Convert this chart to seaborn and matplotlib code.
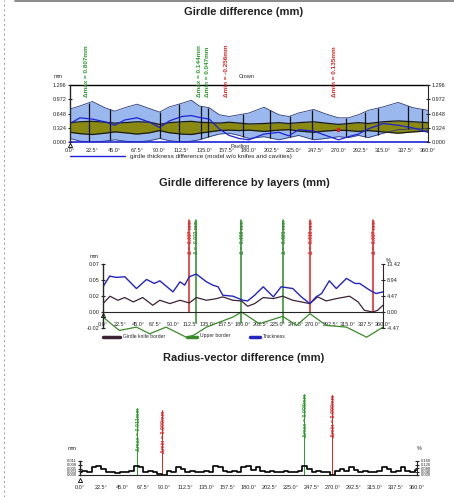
import numpy as np
import matplotlib
matplotlib.use("Agg")
import matplotlib.pyplot as plt
from matplotlib.lines import Line2D
import seaborn as sns

sns.set_style("white")
plt.rcParams['font.family'] = ['Liberation Sans', 'DejaVu Sans']

W, H = 454, 497

# ---------------- data ----------------
x_ticks = [0, 22.5, 45, 67.5, 90, 112.5, 135, 157.5, 180, 202.5, 225, 247.5, 270, 292.5, 315, 337.5, 360]
x_labels = ["%.1f°" % v for v in x_ticks]

# panel 1: girdle difference
ang1 = [0, 10, 22.5, 35, 45, 55, 67.5, 80, 90, 100, 112.5, 122, 130, 140, 150, 160, 170, 180,
        195, 210, 220, 230, 245, 257, 270, 280, 290, 300, 315, 330, 345, 360]
band_hi = [0.75, 0.82, 0.92, 0.78, 0.70, 0.78, 0.86, 0.76, 0.68, 0.80, 0.88, 0.95, 0.82, 0.78, 0.62, 0.58,
           0.62, 0.66, 0.79, 0.62, 0.58, 0.66, 0.74, 0.64, 0.55, 0.55, 0.62, 0.72, 0.80, 0.90, 0.78, 0.72]
band_lo = [0.08, 0.02, 0.0, 0.02, 0.05, 0.02, 0.0, 0.03, 0.08, 0.03, 0.0, 0.02, 0.05, 0.12, 0.18, 0.20,
           0.15, 0.08, 0.12, 0.05, 0.10, 0.15, 0.05, 0.08, 0.12, 0.10, 0.15, 0.10, 0.20, 0.28, 0.30, 0.30]
olive_hi = [0.44, 0.46, 0.47, 0.45, 0.43, 0.44, 0.46, 0.45, 0.40, 0.44, 0.46, 0.47, 0.45, 0.44, 0.43, 0.45,
            0.43, 0.41, 0.42, 0.44, 0.42, 0.44, 0.46, 0.43, 0.40, 0.42, 0.44, 0.42, 0.46, 0.48, 0.46, 0.44]
olive_lo = [0.22, 0.19, 0.17, 0.20, 0.23, 0.21, 0.18, 0.21, 0.26, 0.21, 0.18, 0.17, 0.20, 0.23, 0.26, 0.27,
            0.26, 0.27, 0.24, 0.27, 0.28, 0.25, 0.22, 0.25, 0.27, 0.26, 0.24, 0.26, 0.23, 0.20, 0.23, 0.25]
thick1 = [0.42, 0.55, 0.52, 0.46, 0.38, 0.50, 0.55, 0.45, 0.33, 0.48, 0.58, 0.60, 0.56, 0.52, 0.30, 0.15,
          0.08, 0.05, 0.18, 0.22, 0.14, 0.28, 0.25, 0.15, 0.05, 0.12, 0.18, 0.30, 0.42, 0.38, 0.32, 0.22]
facets = [19, 40, 90, 110, 132, 139, 174, 201, 221, 243, 278, 297, 310, 340, 354]
y_ticks1 = [0.0, 0.324, 0.648, 0.972, 1.296]
notes1 = [(17, "Δmax = 0.807mm", "#2a9a2a"), (130, "Δmax = 0.144mm", "#2a9a2a"),
          (138, "Δmin = 0.047mm", "#2a9a2a"), (157, "Δmin = -0.256mm", "#e02020"),
          (266, "Δmin = 0.135mm", "#e02020")]

# panel 2: girdle difference by layers
ang_th = [0, 8.6, 17, 28, 43, 56, 66, 73, 90, 99, 105, 111, 120, 133, 141, 148, 154, 167, 180, 186, 195,
          206, 219, 229, 244, 255, 266, 274, 281, 291, 300, 313, 324, 330, 343, 351, 360]
thickness = [0.0378, 0.0539, 0.0519, 0.0529, 0.0352, 0.0488, 0.0428, 0.0468, 0.0302, 0.0453, 0.0403,
             0.0529, 0.0569, 0.0453, 0.0403, 0.0378, 0.0252, 0.0237, 0.0176, 0.0166, 0.0252, 0.0378,
             0.0227, 0.0378, 0.0352, 0.0227, 0.0126, 0.0227, 0.0277, 0.0468, 0.0352, 0.0504, 0.0428,
             0.0428, 0.0327, 0.0277, 0.0302]
ang_kn = [0, 9, 19, 28, 39, 51, 64, 73, 86, 99, 111, 120, 133, 146, 154, 167, 178, 186, 195, 206, 219,
          231, 244, 266, 276, 287, 300, 317, 328, 336, 347, 353, 360]
knife = [0.0126, 0.0237, 0.0176, 0.0217, 0.0151, 0.0217, 0.0101, 0.0176, 0.0126, 0.0176, 0.0136,
         0.0217, 0.0176, 0.0201, 0.0227, 0.0176, 0.0166, 0.0086, 0.0126, 0.0217, 0.0201, 0.0237,
         0.0176, 0.0126, 0.0227, 0.0166, 0.0201, 0.0237, 0.0151, 0.0025, 0.0, 0.0025, 0.0101]
ang_up = [0, 21, 43, 60, 81, 107, 116, 133, 150, 167, 178, 201, 231, 249, 266, 287, 313, 339, 360]
upper = [-0.0076, -0.0277, -0.0227, -0.0327, -0.0227, -0.0378, -0.0352, -0.0227, -0.0151, -0.0076,
         0.0, -0.0176, -0.0065, -0.0201, -0.0025, -0.0201, -0.0227, -0.0378, -0.0227]
y_ticks2 = [-0.024, 0.0, 0.024, 0.048, 0.072]
y_ticks2r = [-4.47, 0.0, 4.47, 8.94, 13.42]
notes2 = [(111, "Δ = -0.037 mm", "#e02020"), (119, "Δ = -0.022 mm", "#2a8a2a"),
          (178, "Δ = -0.019 mm", "#2a8a2a"), (232, "Δ = -0.021 mm", "#2a8a2a"),
          (266, "Δ = -0.016 mm", "#e02020"), (347, "Δ = -0.037 mm", "#e02020")]

# panel 3: radius-vector difference
ang3 = list(range(0, 361, 5))
radius = [0.002, 0.003, 0.002, 0.006, 0.007, 0.005, 0.002, 0.002, 0.0015, 0.002, 0.002, 0.003, 0.007,
          0.006, 0.002, 0.003, 0.002, 0.001, 0.0, 0.003, 0.002, 0.006, 0.005, 0.002, 0.003, 0.002,
          0.002, 0.003, 0.002, 0.007, 0.006, 0.003, 0.002, 0.003, 0.002, 0.006, 0.007, 0.004, 0.006,
          0.003, 0.002, 0.003, 0.002, 0.002, 0.003, 0.002, 0.002, 0.003, 0.007, 0.005, 0.002, 0.003,
          0.002, 0.002, 0.0, 0.003, 0.005, 0.003, 0.006, 0.004, 0.002, 0.003, 0.002, 0.002, 0.003,
          0.006, 0.005, 0.002, 0.003, 0.006, 0.003, 0.002, 0.004]
y_ticks3 = [0.0, 0.003, 0.005, 0.008, 0.011]
y_ticks3r = [0.0, 0.04, 0.08, 0.12, 0.16]
notes3 = [(61, "Δmax = 0.011mm", "#2a9a2a", 0.053), (88, "Δmin = 0.000mm", "#e02020", 0.051),
          (239, "Δmax = 0.008mm", "#2a9a2a", 0.064), (269, "Δmin = 0.000mm", "#e02020", 0.063)]

# ---------------- drawing ----------------
def rect(x0, ytop, x1, ybot):
    return [x0 / W, 1 - ybot / H, (x1 - x0) / W, (ybot - ytop) / H]

def fy(y):
    return 1 - y / H

FS = 4

def style_axes(ax, pad):
    for s in ["top", "right"]:
        ax.spines[s].set_visible(False)
    ax.spines["left"].set_linewidth(1.0)
    ax.spines["bottom"].set_position(("data", 0))
    ax.set_xlim(0, 360)
    ax.set_xticks(x_ticks)
    ax.set_xticklabels(x_labels, fontsize=FS)
    ax.tick_params(axis="x", direction="inout", length=3, width=0.8, pad=pad, color="black")
    ax.tick_params(axis="y", direction="inout", length=3, width=0.8, labelsize=FS, pad=1)
    ax.set_xlabel("")
    ax.set_ylabel("")

fig = plt.figure(figsize=(W / 100, H / 100), dpi=100)

# page decoration
fig.add_artist(Line2D([15 / W, 1], [fy(1), fy(1)], color="#777777", lw=1.2))
fig.add_artist(Line2D([4 / W, 4 / W], [0, 1], color="#999999", lw=0.7, ls=(0, (2, 3))))

title_kw = dict(ha="center", va="center", fontsize=8, fontweight="bold", color="#222222")
fig.text(244 / W, fy(12), "Girdle difference (mm)", **title_kw)
fig.text(244 / W, fy(183), "Girdle difference by layers (mm)", **title_kw)
fig.text(244 / W, fy(358), "Radius-vector difference (mm)", **title_kw)

# ---- panel 1
ax1 = fig.add_axes(rect(70, 85, 428, 142))
ax1.fill_between(ang1, band_lo, band_hi, color="#9ab8ee", lw=0)
sns.lineplot(x=ang1, y=band_hi, ax=ax1, color="#2b3a7a", lw=0.6)
sns.lineplot(x=ang1, y=band_lo, ax=ax1, color="#2b3a7a", lw=0.6)
ax1.fill_between(ang1, olive_lo, olive_hi, color="#8a8a12", lw=0)
sns.lineplot(x=ang1, y=olive_hi, ax=ax1, color="#1a1a1a", lw=0.9)
sns.lineplot(x=ang1, y=olive_lo, ax=ax1, color="#1a1a1a", lw=0.9)
ax1.vlines(facets, np.interp(facets, ang1, band_lo), np.interp(facets, ang1, band_hi),
           color="#111111", lw=0.9)
sns.lineplot(x=ang1, y=thick1, ax=ax1, color="#1c22d8", lw=0.9)
ax1.plot([268, 272], [0.28, 0.28], color="#e02020", lw=3, solid_capstyle="butt")
ax1.axhline(1.296, color="black", lw=1.0, clip_on=False)
ax1.axhline(0, color="#1c22d8", lw=1.2, clip_on=False)
ax1.set_ylim(0, 1.296)
style_axes(ax1, pad=3)
ax1.spines["bottom"].set_visible(False)
ax1.set_yticks(y_ticks1)
ax1.set_yticklabels(["%.3f" % v for v in y_ticks1])
ax1r = ax1.twinx()
ax1r.set_ylim(0, 1.296)
ax1r.set_yticks(y_ticks1)
ax1r.set_yticklabels(["%.3f" % v for v in y_ticks1])
for s in ["top", "left", "bottom"]:
    ax1r.spines[s].set_visible(False)
ax1r.tick_params(axis="y", direction="inout", length=3, width=0.8, labelsize=FS, pad=1)
ax1.text(-12, 1.48, "mm", fontsize=FS, ha="center", va="center", clip_on=False)
ax1.text(178, 1.5, "Crown", fontsize=FS, ha="center", va="center", clip_on=False)
ax1.text(171, -0.11, "Pavilion", fontsize=FS, ha="center", va="center", clip_on=False)
ax1.plot([0], [-0.06], marker="^", ms=3, mfc="white", mec="black", mew=0.6, clip_on=False)
for a, t, c in notes1:
    ax1.text(a, 1.02, t, rotation=90, fontsize=4.6, color=c, ha="center", va="bottom",
             clip_on=False, fontweight="bold")
fig.add_artist(Line2D([70 / W, 125 / W], [fy(156), fy(156)], color="#1c22d8", lw=1))
fig.text(130 / W, fy(156), "girdle thickness difference (model w/o knifes and cavities)",
         fontsize=4.6, va="center", ha="left")

# ---- panel 2
ax2 = fig.add_axes(rect(103, 264, 383, 328))
for a, t, c in notes2:
    ax2.plot([a, a], [0.0 if c == "#e02020" else -0.017, 0.138], color=c, lw=1.1, clip_on=False)
    ax2.text(a + 1.5, 0.138, t, rotation=90, fontsize=3.6, color=c, ha="center", va="top",
             clip_on=False, fontweight="bold")
sns.lineplot(x=ang_up, y=upper, ax=ax2, color="#3a8a2a", lw=0.9, clip_on=False)
sns.lineplot(x=ang_kn, y=knife, ax=ax2, color="#3e2236", lw=0.9)
sns.lineplot(x=ang_th, y=thickness, ax=ax2, color="#2424c0", lw=1.0)
ax2.set_ylim(-0.024, 0.072)
style_axes(ax2, pad=6)
ax2.set_yticks(y_ticks2)
ax2.set_yticklabels(["%.2f" % v for v in y_ticks2])
ax2r = ax2.twinx()
ax2r.set_ylim(-4.47, 13.42)
ax2r.set_yticks(y_ticks2r)
ax2r.set_yticklabels(["%.2f" % v for v in y_ticks2r])
for s in ["top", "left", "bottom"]:
    ax2r.spines[s].set_visible(False)
ax2r.tick_params(axis="y", direction="inout", length=3, width=0.8, labelsize=FS, pad=1)
ax2.text(-12, 0.084, "mm", fontsize=FS, ha="center", va="center", clip_on=False)
ax2.text(367, 0.078, "%", fontsize=FS, ha="center", va="center", clip_on=False)
ax2.plot([0], [-0.004], marker="^", ms=3, mfc="white", mec="black", mew=0.6, clip_on=False)
leg2 = [(103, 120, 123, "#3e2236", "Girdle knife border"),
        (187, 197, 200, "#3a8a2a", "Upper border"),
        (250, 260, 263, "#2424c0", "Thickness")]
for x0, x1, xt, c, t in leg2:
    fig.add_artist(Line2D([x0 / W, x1 / W], [fy(337), fy(337)], color=c, lw=2.5))
    fig.text(xt / W, fy(336), t, fontsize=3.6, va="center", ha="left")

# ---- panel 3
ax3 = fig.add_axes(rect(80, 461, 417, 475))
for a, t, c, top in notes3:
    ax3.plot([a, a], [0, top], color=c, lw=0.7, clip_on=False)
    ax3.text(a + 1.5, top, t, rotation=90, fontsize=3.8, color=c, ha="center", va="top",
             clip_on=False, fontweight="bold")
sns.lineplot(x=ang3, y=radius, ax=ax3, color="black", lw=1.2, drawstyle="steps-mid")
ax3.set_ylim(0, 0.011)
style_axes(ax3, pad=6)
ax3.set_yticks(y_ticks3)
ax3.set_yticklabels(["%.3f" % v for v in y_ticks3], fontsize=3.0)
ax3r = ax3.twinx()
ax3r.set_ylim(0, 0.16)
ax3r.set_yticks(y_ticks3r)
ax3r.set_yticklabels(["%.3f" % v for v in y_ticks3r], fontsize=3.0)
for s in ["top", "left", "bottom"]:
    ax3r.spines[s].set_visible(False)
ax3r.tick_params(axis="y", direction="inout", length=3, width=0.8, pad=1)
ax3.text(-8, 0.021, "mm", fontsize=FS, ha="center", va="center", clip_on=False)
ax3.text(362, 0.021, "%", fontsize=FS, ha="center", va="center", clip_on=False)
ax3.plot([0], [-0.004], marker="^", ms=3, mfc="white", mec="black", mew=0.6, clip_on=False)

fig.savefig("out.png", dpi=100)
